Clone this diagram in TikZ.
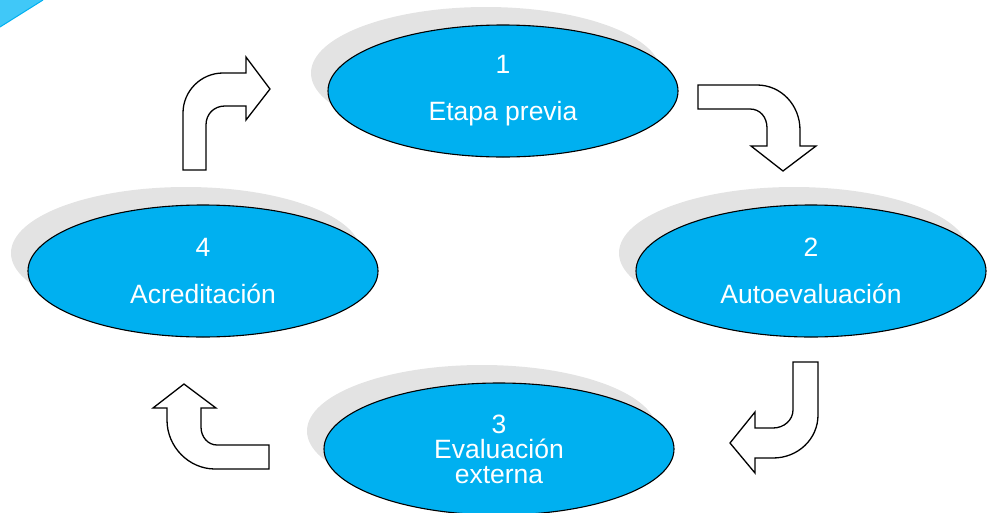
\documentclass[tikz,border=0pt]{standalone}
\usepackage{fontspec}
\setmainfont{Liberation Sans}
\usetikzlibrary{shapes.geometric,shadows}
\definecolor{stagecyan}{HTML}{00B0F0}
\definecolor{cornercyan}{HTML}{40C8F8}

\begin{document}
\begin{tikzpicture} [
            x=1pt, y=-1pt,
            stage/.style={ellipse,draw=black,line width=1.1pt,fill=stagecyan,
                minimum width=350pt,minimum height=132pt,inner sep=0pt,
                text=white,align=center,font=\fontsize{26.5}{47}\selectfont,
                drop shadow={shadow xshift=-17pt,shadow yshift=18pt,opacity=1,fill=black!11}},
            bent arrow/.style = {draw,line width=1.3pt,fill=white,line join=miter},
        ]
        \useasboundingbox (0,0) rectangle (989,512);
        % corner mark
        \fill[cornercyan] (0,0) -- (43,0) -- (0,27) -- cycle;
        \draw[stagecyan,line width=1pt] (43,0) -- (0,27);
        % First we draw the stages
        \foreach \pos/\name/\label in {
                {(503,91)/previa/1\\Etapa previa},
                {(811,271)/auto/2\\Autoevaluación},
                {(499,449)/externa/3\\[-22pt]Evaluación\\[-22pt]externa},
                {(203,271)/acred/4\\Acreditación}}
            \node[stage] (\name) at \pos {\label};
        % Bent arrows between the stages
        % acred -> previa
        \draw[bent arrow] (183,170) -- (183,113) .. controls (183,91) and (201,73) .. (223,73)
            -- (246,73) -- (246,57) -- (270,89) -- (246,120) -- (246,106) -- (225,106)
            .. controls (214,106) and (206,114) .. (206,125) -- (206,170) -- cycle;
        % previa -> auto
        \draw[bent arrow] (698,85) -- (757,85) .. controls (781,85) and (800,105) .. (800,130)
            -- (800,146) -- (816,146) -- (783,171) -- (751,146) -- (767,146) -- (767,128)
            .. controls (767,117) and (760,109) .. (750,109) -- (698,109) -- cycle;
        % auto -> externa
        \draw[bent arrow] (793,362) -- (818,362) -- (818,415) .. controls (818,439) and (798,458) .. (773,458)
            -- (755,458) -- (755,473) -- (730,443) -- (755,412) -- (755,428) -- (773,428)
            .. controls (784,428) and (793,420) .. (793,410) -- cycle;
        % externa -> acred
        \draw[bent arrow] (269,445) -- (217,445) .. controls (208,445) and (201,437) .. (201,427)
            -- (201,408) -- (216,408) -- (184,384) -- (153,408) -- (167,408) -- (167,420)
            .. controls (167,447) and (189,469) .. (215,469) -- (269,469) -- cycle;
    \end{tikzpicture}
\end{document}
